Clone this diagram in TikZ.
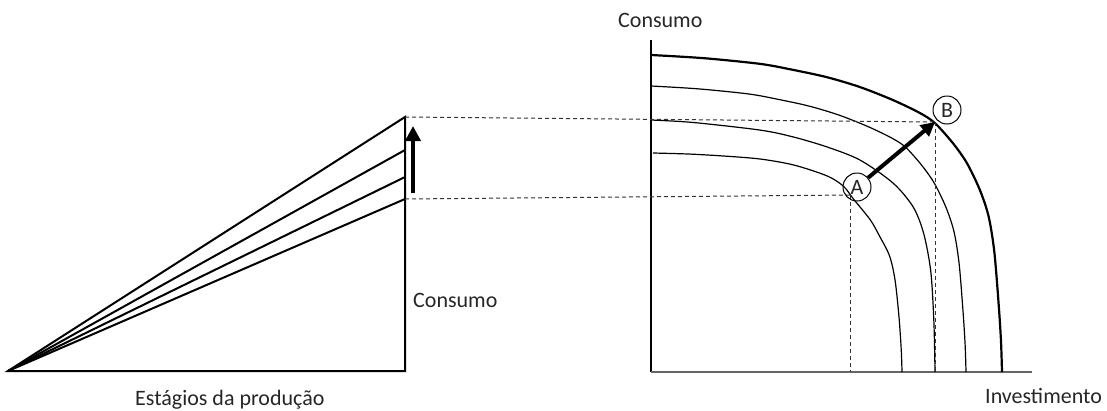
\documentclass[tikz,border=0pt]{standalone}
\usepackage{fontspec}
\setmainfont{Carlito}
\usetikzlibrary{arrows.meta}
\begin{document}
\begin{tikzpicture}[x=1pt,y=-1pt,
  thickline/.style={line width=2pt,line join=miter},
  axisline/.style={line width=1.3pt},
  guide/.style={line width=1pt,dash pattern=on 4pt off 3pt,black!80},
  bigarrow/.style={line width=4.5pt,-{Triangle[length=15pt,width=15pt]}},
  midarrow/.style={line width=4pt,-{Triangle[length=14pt,width=14pt]}},
  lbl/.style={font=\fontsize{22}{26}\selectfont,inner sep=0pt,anchor=base west,text=black!85},
  pt/.style={circle,draw,line width=1pt,minimum size=28pt,inner sep=0pt,font=\fontsize{22}{26}\selectfont,text=black!85},
  curvethin/.style={line width=1.2pt},
  curvethick/.style={line width=2.2pt}
]
\useasboundingbox (0,0) rectangle (1107,410);
% left triangle
\coordinate (apex) at (8,371);
\coordinate (base) at (405,371);
\coordinate (top) at (405,117);
\coordinate (p1) at (405,150);
\coordinate (p2) at (405,177);
\coordinate (p3) at (405,199);
\draw[thickline] (apex) -- (base) -- (top) -- cycle;
\draw[thickline] (apex) -- (p1);
\draw[thickline] (apex) -- (p2);
\draw[thickline] (apex) -- (p3);
\coordinate (la1) at (413,193);
\coordinate (la2) at (413,126);
\draw[bigarrow] (la1) -- (la2);
\node[lbl] (consL) at (413,307) {Consumo};
\node[lbl] (estag) at (135,405) {Estágios da produção};
% right axes
\coordinate (O) at (651,372);
\coordinate (ytop) at (651,40);
\coordinate (xend) at (1032,372);
\draw[axisline] (ytop) -- (O);
\draw[axisline,black!60] (O) -- (xend);
\node[lbl] (consT) at (618,27) {Consumo};
\node[lbl] (inv) at (985,403) {Investimento};
% curves 1 and 2 (outer profile)
\foreach \a/\b/\w in {351/317/curvethick, 315/286/curvethin}{
  \begin{scope}[shift={(O)},xscale=\a,yscale=\b]
  \draw[\w] plot[smooth,tension=0.5] coordinates {
    (0,-1) (0.15,-0.99) (0.311,-0.972) (0.405,-0.953) (0.501,-0.930)
    (0.595,-0.899) (0.689,-0.858) (0.766,-0.817) (0.809,-0.785) (0.86,-0.722)
    (0.90,-0.659) (0.937,-0.574) (0.962,-0.49) (0.978,-0.38) (0.99,-0.22)
    (0.997,-0.1) (1,0)};
  \end{scope}
}
% curve 3 (mid profile)
\begin{scope}[shift={(O)},xscale=284,yscale=252]
\draw[curvethin] plot[smooth,tension=0.5] coordinates {
  (0,-1) (0.15,-0.99) (0.384,-0.96) (0.50,-0.933) (0.62,-0.893) (0.736,-0.841)
  (0.852,-0.75) (0.923,-0.655) (0.96,-0.55) (0.985,-0.40) (0.996,-0.2) (1,0)};
\end{scope}
% curve 4 (inner profile)
\begin{scope}[shift={(653,372)},xscale=249,yscale=219]
\draw[curvethin] plot[smooth,tension=0.5] coordinates {
  (0,-1) (0.15,-0.995) (0.30,-0.985) (0.434,-0.972) (0.566,-0.945) (0.70,-0.895)
  (0.765,-0.848) (0.805,-0.79) (0.873,-0.694) (0.91,-0.62) (0.95,-0.53)
  (0.972,-0.42) (0.988,-0.25) (0.997,-0.1) (1,0)};
\end{scope}
% points
\coordinate (Apt) at (850,195);
\coordinate (Bpt) at (935,122);
\coordinate (Afoot) at (850,372);
\coordinate (Bfoot) at (935,372);
\draw[guide] (top) -- (Bpt);
\draw[guide] (p3) -- (Apt);
\draw[guide] (Apt) -- (Afoot);
\draw[guide] (Bpt) -- (Bfoot);
\node[pt] (A) at (857,187) {A};
\node[pt] (B) at (947,110) {B};
\draw[midarrow] (A) -- (Bpt);
\end{tikzpicture}
\end{document}
